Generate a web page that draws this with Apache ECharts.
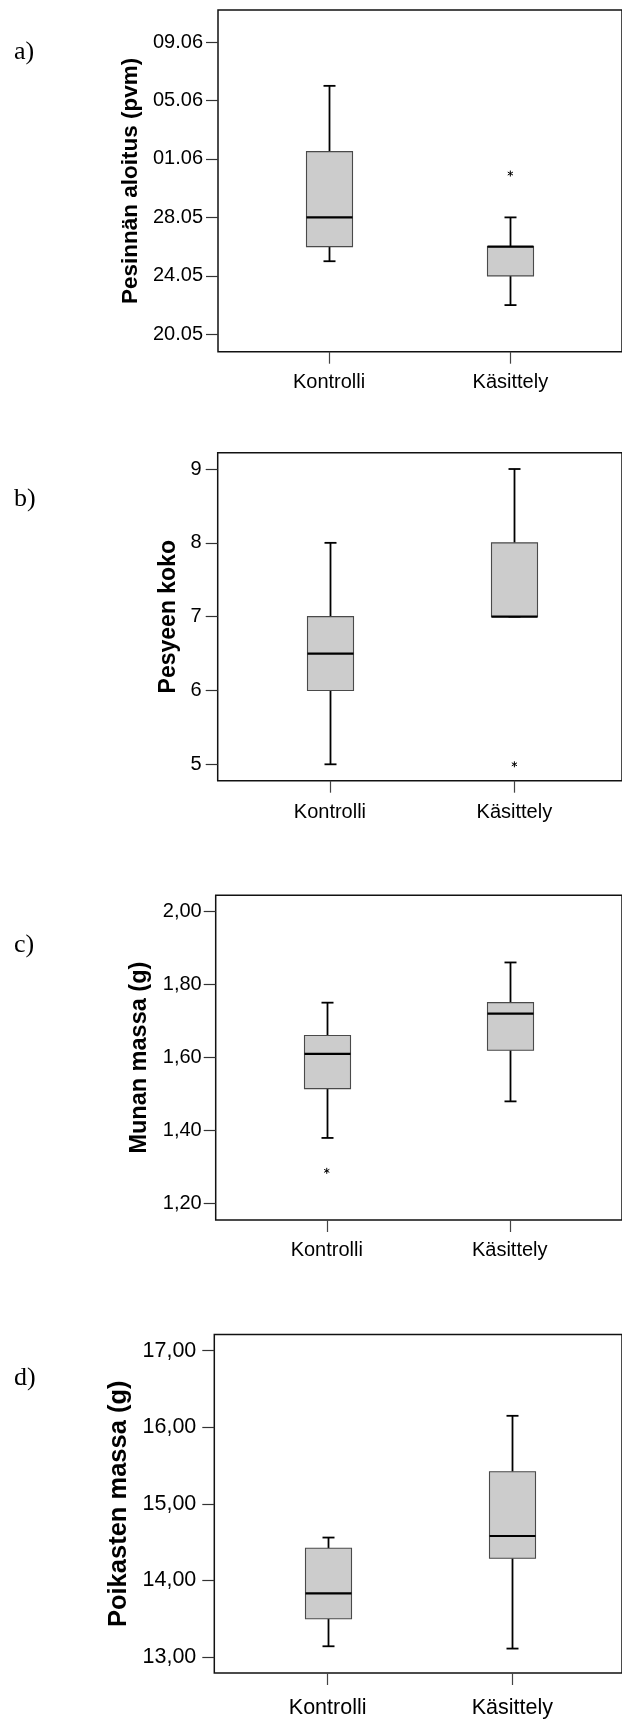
<!DOCTYPE html>
<html>
<head>
<meta charset="utf-8">
<script src="https://cdn.jsdelivr.net/npm/echarts@6/dist/echarts.min.js"></script>
<style>
html,body{margin:0;padding:0;background:#fff;}
#chart{width:622px;height:1720px;}
</style>
</head>
<body>
<div id="chart"></div>
<script>
// ---------- DATA ----------
const categories = ['Kontrolli', 'Käsittely'];

// a) Pesinnän aloitus: day numbers counted in May (01.06 = 32)
const aTickValues = [20, 24, 28, 32, 36, 40];
const aTickLabels = ['20.05', '24.05', '28.05', '01.06', '05.06', '09.06'];
const aKontrolli = [25, 26, 28, 32.5, 37];     // min, Q1, median, Q3, max
const aKasittely = [22, 24, 26, 26, 28];
const aOutliers = [[2, 31]];

// b) Pesyeen koko
const bTickValues = [5, 6, 7, 8, 9];
const bTickLabels = ['5', '6', '7', '8', '9'];
const bKontrolli = [5, 6, 6.5, 7, 8];
const bKasittely = [7, 7, 7, 8, 9];
const bOutliers = [[2, 5]];

// c) Munan massa (g)
const cTickValues = [1.2, 1.4, 1.6, 1.8, 2.0];
const cTickLabels = ['1,20', '1,40', '1,60', '1,80', '2,00'];
const cKontrolli = [1.38, 1.515, 1.61, 1.66, 1.75];
const cKasittely = [1.48, 1.62, 1.72, 1.75, 1.86];
const cOutliers = [[1, 1.29]];

// d) Poikasten massa (g)
const dTickValues = [13, 14, 15, 16, 17];
const dTickLabels = ['13,00', '14,00', '15,00', '16,00', '17,00'];
const dKontrolli = [13.14, 13.50, 13.83, 14.42, 14.56];
const dKasittely = [13.11, 14.29, 14.58, 15.42, 16.15];
const dOutliers = [];

const titles = ['Pesinnän aloitus (pvm)', 'Pesyeen koko', 'Munan massa (g)', 'Poikasten massa (g)'];
const letters = ['a)', 'b)', 'c)', 'd)'];

// ---------- LAYOUT (positions / styles) ----------
const R = 628;
const layouts = [
  {top: 10,    bottom: 351.7,  left: 218,   c1: 330.7, c2: 514.7, yMin: 18.81, yMax: 42.19,  lm: 15, ng: 62, xlm: 21, fs: 20, tfs: 22.5, letterTop: 39},
  {top: 452.7, bottom: 780.7,  left: 217.7, c1: 331.6, c2: 518.8, yMin: 4.778, yMax: 9.221,  lm: 16, ng: 38, xlm: 22, fs: 20, tfs: 23, letterTop: 486},
  {top: 895.3, bottom: 1220,   left: 215.7, c1: 328.4, c2: 514.1, yMin: 1.1555, yMax: 2.0437, lm: 14, ng: 63, xlm: 20, fs: 20, tfs: 23.5, letterTop: 932},
  {top: 1334.5, bottom: 1673,  left: 214.3, c1: 329.3, c2: 516.7, yMin: 12.791, yMax: 17.212, lm: 18, ng: 78, xlm: 24, fs: 21.5, tfs: 25.5, letterTop: 1365}
];
const panels = [
  {ticks: aTickValues, labels: aTickLabels, k: aKontrolli, t: aKasittely, out: aOutliers},
  {ticks: bTickValues, labels: bTickLabels, k: bKontrolli, t: bKasittely, out: bOutliers},
  {ticks: cTickValues, labels: cTickLabels, k: cKontrolli, t: cKasittely, out: cOutliers},
  {ticks: dTickValues, labels: dTickLabels, k: dKontrolli, t: dKasittely, out: dOutliers}
];

const FONT = "'Liberation Sans', Arial, Helvetica, sans-serif";
const BOX_W = 46, CAP_W = 12;

function renderBox(params, api) {
  const x = api.value(0);
  const lo = api.coord([x, api.value(1)]);
  const q1 = api.coord([x, api.value(2)]);
  const md = api.coord([x, api.value(3)]);
  const q3 = api.coord([x, api.value(4)]);
  const hi = api.coord([x, api.value(5)]);
  const cx = Math.round(lo[0]) + 0.5;
  const hw = BOX_W / 2, cw = CAP_W / 2;
  const wStyle = {stroke: '#000', lineWidth: 1.8};
  return {
    type: 'group',
    children: [
      {type: 'line', shape: {x1: cx, y1: q3[1], x2: cx, y2: hi[1]}, style: wStyle},
      {type: 'line', shape: {x1: cx - cw, y1: hi[1], x2: cx + cw, y2: hi[1]}, style: wStyle},
      {type: 'line', shape: {x1: cx, y1: q1[1], x2: cx, y2: lo[1]}, style: wStyle},
      {type: 'line', shape: {x1: cx - cw, y1: lo[1], x2: cx + cw, y2: lo[1]}, style: wStyle},
      {type: 'rect', shape: {x: cx - hw, y: q3[1], width: 2 * hw, height: q1[1] - q3[1]},
        style: {fill: '#cccccc', stroke: '#4a4a4a', lineWidth: 1.1}},
      {type: 'line', shape: {x1: cx - hw, y1: md[1], x2: cx + hw, y2: md[1]}, style: {stroke: '#000', lineWidth: 2.2}}
    ]
  };
}

function renderStar(params, api) {
  const p = api.coord([api.value(0), api.value(1)]);
  const r = 3;
  const st = {stroke: '#000', lineWidth: 1};
  const ch = [];
  for (let i = 0; i < 3; i++) {
    const a = Math.PI / 2 + i * Math.PI / 3;
    ch.push({type: 'line', shape: {x1: p[0] - r * Math.cos(a), y1: p[1] - r * Math.sin(a), x2: p[0] + r * Math.cos(a), y2: p[1] + r * Math.sin(a)}, style: st});
  }
  return {type: 'group', children: ch};
}

const grid = [], xAxis = [], yAxis = [], series = [], graphic = [];
layouts.forEach(function (L, i) {
  const P = panels[i];
  const s = L.c2 - L.c1;
  grid.push({
    left: L.left, top: L.top, width: R - L.left, height: L.bottom - L.top,
    show: true, borderColor: '#111', borderWidth: 1.5, backgroundColor: 'transparent'
  });
  xAxis.push({
    type: 'value', gridIndex: i,
    min: 1 - (L.c1 - L.left) / s, max: 1 + (R - L.c1) / s,
    axisLine: {show: false}, splitLine: {show: false},
    axisTick: {show: true, length: 12, customValues: [1, 2], lineStyle: {color: '#444', width: 1.2}},
    axisLabel: {customValues: [1, 2], margin: L.xlm, fontSize: L.fs, fontFamily: FONT, color: '#000',
      formatter: function (v) { return categories[Math.round(v) - 1] || ''; }}
  });
  yAxis.push({
    type: 'value', gridIndex: i, min: L.yMin, max: L.yMax,
    name: titles[i], nameLocation: 'middle', nameGap: L.ng,
    nameTextStyle: {fontWeight: 'bold', fontSize: L.tfs, fontFamily: FONT, color: '#000'},
    axisLine: {show: false}, splitLine: {show: false},
    axisTick: {show: true, length: 12, customValues: P.ticks, lineStyle: {color: '#333', width: 1.2}},
    axisLabel: {customValues: P.ticks, margin: L.lm, fontSize: L.fs, fontFamily: FONT, color: '#000',
      formatter: function (v) {
        for (let j = 0; j < P.ticks.length; j++) { if (Math.abs(P.ticks[j] - v) < 1e-6) return P.labels[j]; }
        return '';
      }}
  });
  series.push({
    type: 'custom', xAxisIndex: i, yAxisIndex: i, renderItem: renderBox, clip: false,
    encode: {x: 0, y: [1, 2, 3, 4, 5]},
    data: [[1].concat(P.k), [2].concat(P.t)]
  });
  if (P.out.length) {
    series.push({
      type: 'custom', xAxisIndex: i, yAxisIndex: i, renderItem: renderStar, clip: false,
      encode: {x: 0, y: 1}, data: P.out
    });
  }
  graphic.push({
    type: 'text', left: 14, top: L.letterTop,
    style: {text: letters[i], font: "26px 'Liberation Serif', 'Times New Roman', serif", fill: '#000'}
  });
});

const chart = echarts.init(document.getElementById('chart'), null, {renderer: 'canvas'});
chart.setOption({
  animation: false,
  backgroundColor: '#fff',
  grid: grid, xAxis: xAxis, yAxis: yAxis, series: series, graphic: graphic
});
</script>
</body>
</html>
